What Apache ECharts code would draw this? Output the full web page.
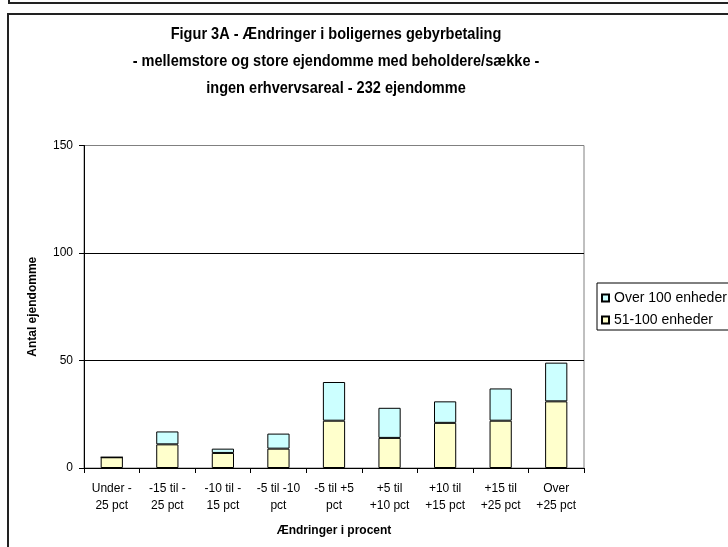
<!DOCTYPE html>
<html>
<head>
<meta charset="utf-8">
<script src="https://cdn.jsdelivr.net/npm/echarts@6/dist/echarts.min.js"></script>
<style>
html,body{margin:0;padding:0;background:#fff;}
#c{width:728px;height:547px;}
</style>
</head>
<body>
<div id="c"></div>
<script>
var categories = ['Under -\n25 pct', '-15 til -\n25 pct', '-10 til -\n15 pct', '-5 til -10\npct', '-5 til +5\npct', '+5 til\n+10 pct', '+10 til\n+15 pct', '+15 til\n+25 pct', 'Over\n+25 pct'];
var units51to100 = [5, 11, 7, 9, 22, 14, 21, 22, 31];
var unitsOver100 = [0, 6, 2, 7, 18, 14, 10, 15, 18];
var yTicks = [0, 50, 100, 150];
var titleLines = ['Figur 3A - Ændringer i boligernes gebyrbetaling', '- mellemstore og store ejendomme med beholdere/sække -', 'ingen erhvervsareal - 232 ejendomme'];

var FONT = '"Liberation Sans", Arial, sans-serif';
var chart = echarts.init(document.getElementById('c'), null, {renderer: 'canvas'});
chart.setOption({
  animation: false,
  backgroundColor: '#fff',
  textStyle: {fontFamily: FONT},
  grid: {left: 84, top: 145.5, width: 500, height: 322.5, show: true, borderColor: '#808080', borderWidth: 1, backgroundColor: 'transparent'},
  legend: {
    orient: 'vertical', left: 601, top: 291, padding: 0, itemWidth: 7, itemHeight: 7, itemGap: 8,
    icon: 'rect',
    data: ['Over 100 enheder', '51-100 enheder'],
    textStyle: {fontFamily: FONT, fontSize: 14, color: '#000'}
  },
  xAxis: {
    type: 'category', data: categories,
    axisLine: {lineStyle: {color: '#000', width: 1}},
    axisTick: {show: true, length: 5, lineStyle: {color: '#000'}},
    axisLabel: {interval: 0, fontFamily: FONT, fontSize: 12, lineHeight: 17, color: '#000', margin: 12},
    name: 'Ændringer i procent', nameLocation: 'middle', nameGap: 57,
    nameTextStyle: {fontFamily: FONT, fontSize: 12, fontWeight: 'bold', color: '#000'}
  },
  yAxis: {
    type: 'value', min: yTicks[0], max: yTicks[yTicks.length - 1], interval: 50,
    axisLine: {show: true, lineStyle: {color: '#000', width: 1}},
    axisTick: {show: true, length: 5, lineStyle: {color: '#000'}},
    splitLine: {show: true, lineStyle: {color: ['#000', '#000', '#000', '#808080'], width: 1}},
    axisLabel: {fontFamily: FONT, fontSize: 12, color: '#000', margin: 11},
    name: 'Antal ejendomme', nameLocation: 'middle', nameGap: 45, nameRotate: 90,
    nameTextStyle: {fontFamily: FONT, fontSize: 12, fontWeight: 'bold', color: '#000'}
  },
  series: [
    {name: '51-100 enheder', type: 'bar', stack: 's', data: units51to100, barWidth: '40%',
     itemStyle: {color: '#FFFFCC', borderColor: '#000', borderWidth: 1}},
    {name: 'Over 100 enheder', type: 'bar', stack: 's', data: unitsOver100, barWidth: '40%',
     itemStyle: {color: '#CCFFFF', borderColor: '#000', borderWidth: 1}}
  ],
  graphic: [
    {type: 'rect', shape: {x: 9, y: -100, width: 800, height: 103}, style: {fill: 'none', stroke: '#222', lineWidth: 2}},
    {type: 'rect', shape: {x: 8, y: 14, width: 800, height: 600}, style: {fill: 'none', stroke: '#222', lineWidth: 2}},
    {type: 'rect', shape: {x: 597, y: 283, width: 200, height: 47}, style: {fill: 'none', stroke: '#000', lineWidth: 1}},
    {type: 'text', x: 336, y: 21, scaleX: 0.97, scaleY: 1.15,
     style: {text: titleLines.join('\n'), x: 0, y: 0, textAlign: 'center', fill: '#000', font: 'bold 15px ' + FONT, lineHeight: 23.5}}
  ]
});
</script>
</body>
</html>
